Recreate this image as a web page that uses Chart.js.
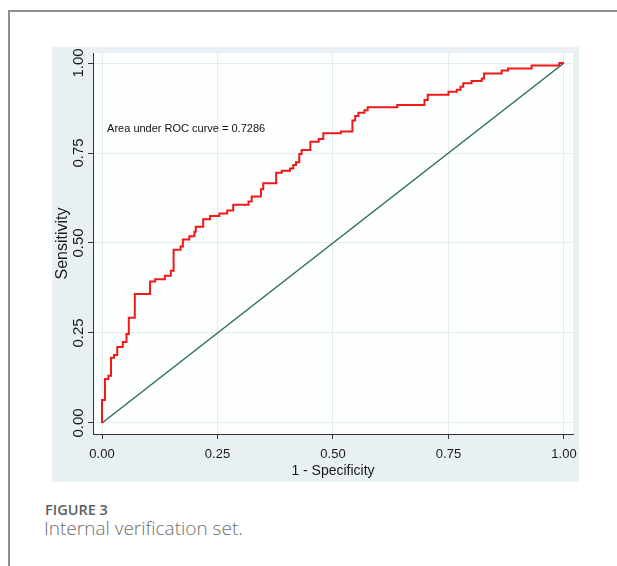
<!DOCTYPE html>
<html>
<head>
<meta charset="utf-8">
<script src="https://cdn.jsdelivr.net/npm/chart.js@4.4.1/dist/chart.umd.min.js"></script>
<style>
  body { margin: 0; width: 617px; height: 566px; background: #fff; position: relative; overflow: hidden; }
  #frame { position: absolute; left: 8px; top: 10px; width: 640px; height: 600px; border-top: 2px solid #8e8e8e; border-left: 2px solid #8e8e8e; }
  #box { position: absolute; left: 52px; top: 47px; width: 527px; height: 435px; background: #e8f0f3; }
  #cap1 { position: absolute; left: 45px; top: 503px; font: 600 14.5px/1 "Open Sans", "Noto Sans", sans-serif; color: #5a5f63; }
  #cap2 { position: absolute; left: 44px; top: 519px; font: 300 19px/1 "Open Sans", "Noto Sans", sans-serif; color: #6e6e6e; }
</style>
</head>
<body>
<div id="frame"></div>
<div id="box"><canvas id="chart" width="527" height="435"></canvas></div>
<div id="cap1">FIGURE 3</div>
<div id="cap2">Internal verification set.</div>
<script>
// ROC curve vertices (1 - specificity, sensitivity)
var fpr = [0, 0.0065, 0.0137, 0.0195, 0.026, 0.033, 0.045, 0.053, 0.058, 0.071,
           0.104, 0.115, 0.136, 0.149, 0.155, 0.170, 0.175, 0.189, 0.200, 0.203,
           0.219, 0.234, 0.254, 0.271, 0.284, 0.317, 0.324, 0.344, 0.349, 0.377,
           0.389, 0.407, 0.414, 0.420, 0.427, 0.432, 0.451, 0.469, 0.479, 0.517,
           0.542, 0.548, 0.555, 0.568, 0.575, 0.639, 0.698, 0.705, 0.750, 0.768,
           0.776, 0.782, 0.800, 0.822, 0.827, 0.865, 0.879, 0.930, 0.990, 1.0];
var tpr = [0, 0.064, 0.122, 0.131, 0.181, 0.189, 0.211, 0.225, 0.247, 0.292,
           0.358, 0.393, 0.399, 0.409, 0.423, 0.481, 0.490, 0.510, 0.519, 0.531,
           0.545, 0.566, 0.575, 0.582, 0.590, 0.606, 0.615, 0.629, 0.649, 0.666,
           0.695, 0.701, 0.707, 0.717, 0.724, 0.747, 0.758, 0.781, 0.789, 0.805,
           0.810, 0.840, 0.853, 0.862, 0.869, 0.877, 0.883, 0.897, 0.912, 0.920,
           0.926, 0.934, 0.944, 0.950, 0.957, 0.971, 0.979, 0.985, 0.993, 1.0];

// reference line
var refX = [0, 1];
var refY = [0, 1];

var tickVals = [0, 0.25, 0.5, 0.75, 1];
var aucText = 'Area under ROC curve = 0.7286';
var aucAt = [0.011, 0.817];

var sans = '"Liberation Sans", Arial, sans-serif';

function pts(xs, ys) {
    return xs.map(function (x, i) { return { x: x, y: ys[i] }; });
}
function fixTicks(scale) {
    scale.ticks = tickVals.map(function (v) { return { value: v }; });
}
function fmt(v) { return Number(v).toFixed(2); }

// white plot region
var plotBg = {
    id: 'plotBg',
    beforeDraw: function (chart) {
        var a = chart.chartArea, ctx = chart.ctx;
        ctx.save();
        ctx.fillStyle = '#fdfefe';
        ctx.fillRect(a.left, a.top, a.right - a.left, a.bottom - a.top);
        ctx.restore();
    }
};

// AUC note
var aucNote = {
    id: 'aucNote',
    afterDatasetsDraw: function (chart) {
        var ctx = chart.ctx, x = chart.scales.x, y = chart.scales.y;
        ctx.save();
        ctx.font = '11px ' + sans;
        ctx.fillStyle = '#111';
        ctx.textBaseline = 'middle';
        ctx.fillText(aucText, x.getPixelForValue(aucAt[0]), y.getPixelForValue(aucAt[1]));
        ctx.restore();
    }
};

var ctx = document.getElementById('chart').getContext('2d');
new Chart(ctx, {
    type: 'line',
    data: {
        datasets: [{
            data: pts(fpr, tpr),
            stepped: 'after',
            borderColor: '#f01818',
            borderWidth: 2,
            pointRadius: 0,
            fill: false
        }, {
            data: pts(refX, refY),
            borderColor: '#2f6e5c',
            borderWidth: 1.5,
            pointRadius: 0,
            fill: false
        }]
    },
    options: {
        responsive: false,
        animation: false,
        devicePixelRatio: 1,
        layout: { autoPadding: false, padding: { top: 6, right: 6, left: 0, bottom: 0 } },
        plugins: { legend: { display: false }, tooltip: { enabled: false } },
        scales: {
            x: {
                type: 'linear',
                min: -0.0195, max: 1.0195,
                afterBuildTicks: fixTicks,
                afterFit: function (s) { s.height = 48; s.paddingLeft = 0; s.paddingRight = 0; },
                grid: { color: '#e3ecef', tickColor: '#333', tickLength: 5 },
                border: { color: '#333', width: 1 },
                ticks: { color: '#1a1a1a', padding: 8, maxRotation: 0, font: { family: sans, size: 13 }, callback: fmt },
                title: { display: true, text: '1 - Specificity', color: '#1a1a1a', font: { family: sans, size: 14 }, padding: { top: 0, bottom: 2 } }
            },
            y: {
                type: 'linear',
                min: -0.0306, max: 1.0278,
                afterBuildTicks: fixTicks,
                afterFit: function (s) { s.width = 41; s.paddingTop = 0; s.paddingBottom = 0; },
                grid: { color: '#e3ecef', tickColor: '#333', tickLength: 5 },
                border: { color: '#333', width: 1 },
                ticks: { color: '#1a1a1a', padding: -5, minRotation: 90, maxRotation: 90, crossAlign: 'center', font: { family: sans, size: 15 }, callback: fmt },
                title: { display: true, text: 'Sensitivity', color: '#1a1a1a', font: { family: sans, size: 16 }, padding: { top: 1, bottom: 0 } }
            }
        }
    },
    plugins: [plotBg, aucNote]
});
</script>
</body>
</html>
